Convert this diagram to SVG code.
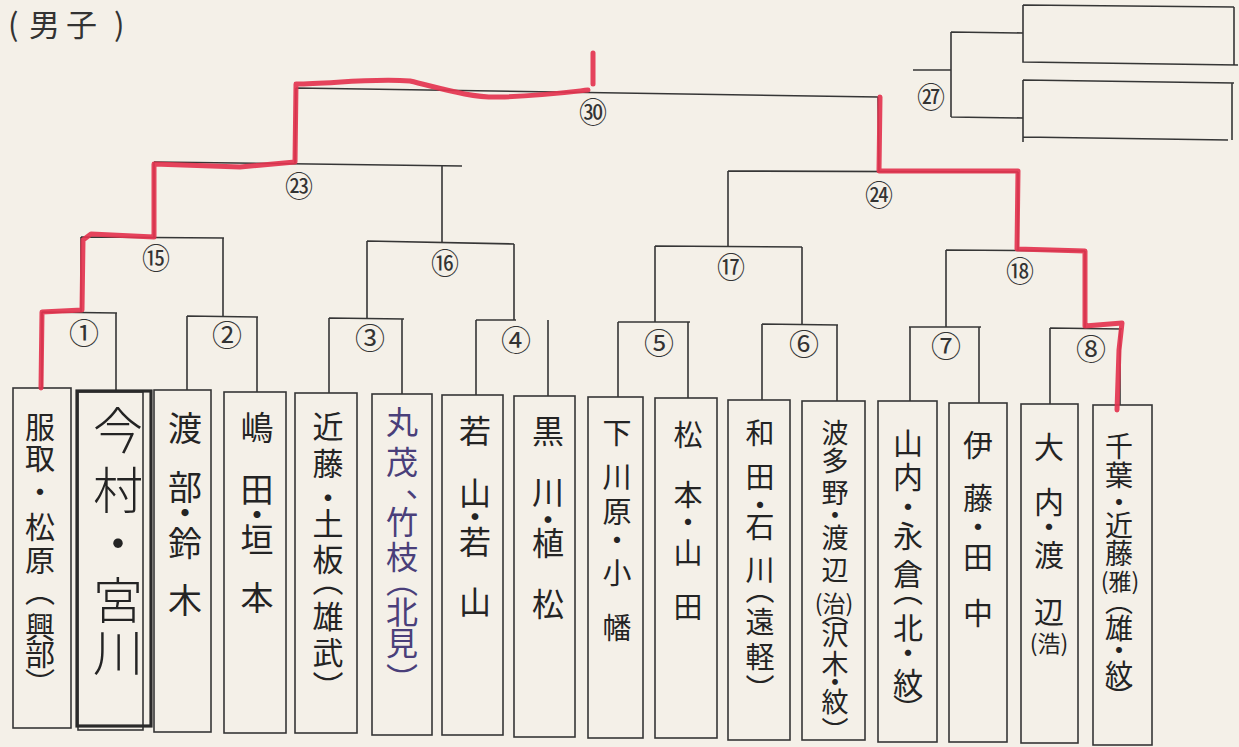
<svg xmlns="http://www.w3.org/2000/svg" width="1239" height="747" viewBox="0 0 1239 747">
<style>
.ln{stroke:#363636;stroke-width:1.6;fill:none}
.bx{fill:none;stroke:#363636;stroke-width:1.6}
.v{font-family:"Noto Sans CJK JP","Noto Sans CJK SC",sans-serif;writing-mode:vertical-rl;fill:#242424}
.n{font-family:"Noto Sans CJK JP","Noto Sans CJK SC",sans-serif;font-size:30px;text-anchor:middle;dominant-baseline:central;fill:#333}
.n2{font-size:28px}
.h{font-family:"Noto Sans CJK JP","Noto Sans CJK SC",sans-serif;text-anchor:middle;dominant-baseline:central;fill:#242424}
.red{stroke:#e3344f;stroke-width:5;fill:none;stroke-linecap:round;stroke-linejoin:round;opacity:0.92}
</style>
<rect x="0" y="0" width="1239" height="747" fill="#f4f0e8"/>
<g id="title">
<text font-family="'Noto Sans CJK JP','Noto Sans CJK SC',sans-serif" font-size="31" y="22" dominant-baseline="central" x="8 29 66 114" fill="#333">(男子)</text>
</g>
<g id="connectors">
<path class="ln" d="M296 88 L878 97 M296 88 L295 163 M878 97 L879 172"/>
<path class="ln" d="M154 162 L462 166 M154 162 L154 237 M442 166 L442 242"/>
<path class="ln" d="M728 171 L1018 172 M728 171 L728 246 M1018 172 L1018 250"/>
<path class="ln" d="M81 237 L224 238 M81 237 L81 313 M223 238 L223 316"/>
<path class="ln" d="M367 241 L514 244 M367 241 L367 318 M514 244 L514 320"/>
<path class="ln" d="M655 246 L802 247 M655 246 L655 322 M802 247 L802 324"/>
<path class="ln" d="M946 250 L1085 251 M946 250 L946 327 M1085 251 L1085 328"/>
<path class="ln" d="M42 312 L117 313 M42 312 L42 388 M116 313 L116 392"/>
<path class="ln" d="M187 316 L258 317 M187 316 L187 390 M257 317 L257 392"/>
<path class="ln" d="M329 318 L404 319 M329 318 L329 393 M402 319 L402 394"/>
<path class="ln" d="M476 320 L516 320 M476 320 L476 395 M548 320 L548 396"/>
<path class="ln" d="M618 322 L690 322 M618 322 L618 397 M688 322 L688 398"/>
<path class="ln" d="M762 324 L838 325 M762 324 L762 400 M837 325 L837 401"/>
<path class="ln" d="M909 327 L981 327 M910 327 L910 401 M979 327 L979 403"/>
<path class="ln" d="M1050 328 L1122 329 M1050 328 L1050 404 M1120 329 L1120 405"/>
<text class="n n2" x="593" y="111">㉚</text>
<text class="n n2" x="299" y="185">㉓</text>
<text class="n n2" x="879" y="194">㉔</text>
<text class="n n2" x="156" y="257">⑮</text>
<text class="n n2" x="445" y="262">⑯</text>
<text class="n n2" x="731" y="266">⑰</text>
<text class="n n2" x="1020" y="270">⑱</text>
<text class="n" x="84" y="331">①</text>
<text class="n" x="227" y="333">②</text>
<text class="n" x="370" y="336">③</text>
<text class="n" x="516" y="338">④</text>
<text class="n" x="659" y="341">⑤</text>
<text class="n" x="804" y="342">⑥</text>
<text class="n" x="946" y="344">⑦</text>
<text class="n" x="1091" y="347">⑧</text>
</g>
<g id="match-27">
<path class="ln" d="M913 70 L951 70 M951 32 L951 117 M951 32 L1023 33 M951 117 L1023 118"/>
<path class="ln" d="M1023 5 L1234 7 M1023 5 L1023 62 L1238 65 M1234 7 L1234 65"/>
<path class="ln" d="M1023 80 L1234 83 M1023 80 L1023 142 M1023 137 L1228 140 M1232 83 L1232 140"/>
<text class="n n2" x="931" y="96">㉗</text>
</g>
<g id="p1"><rect class="bx" x="13" y="388" width="58" height="340"/>
<text class="v" font-size="30" x="40" y="412 443 477 512 545 576 612 639 668">服取・松原（興部）</text></g>
<g id="p2"><rect class="bx" x="78" y="392" width="65" height="338"/><rect x="77" y="391" width="74" height="335" fill="none" stroke="#2a2a2a" stroke-width="3.2"/>
<text class="v" font-size="50" font-weight="300" x="118" y="405 465 518 575 627">今村・宮川</text></g>
<g id="p3"><rect class="bx" x="154" y="390" width="57" height="342"/>
<text class="v" font-size="34" x="185" y="411 470 496 526 583">渡部・鈴木</text></g>
<g id="p4"><rect class="bx" x="224" y="392" width="62" height="341"/>
<text class="v" font-size="33" x="257" y="411 473 498 523 581">嶋田・垣本</text></g>
<g id="p5"><rect class="bx" x="295" y="393" width="62" height="340"/>
<text class="v" font-size="31" x="328" y="411 448 482 508 544 565 601 637 671">近藤・土板（雄武）</text></g>
<g id="p6"><rect class="bx" x="372" y="394" width="60" height="341"/>
<text class="v" font-size="32" style="fill:#4a3f7a" x="402" y="406 446 489 506 541 565 596 627 663">丸茂、竹枝（北見）</text></g>
<g id="p7"><rect class="bx" x="442" y="395" width="61" height="340"/>
<text class="v" font-size="32" x="475" y="415 477 501 526 586">若山・若山</text></g>
<g id="p8"><rect class="bx" x="514" y="396" width="61" height="341"/>
<text class="v" font-size="32" x="548" y="415 476 504 527 588">黒川・植松</text></g>
<g id="p9"><rect class="bx" x="588" y="397" width="55" height="341"/>
<text class="v" font-size="29" x="617" y="418 462 497 525 558 613">下川原・小幡</text></g>
<g id="p10"><rect class="bx" x="655" y="398" width="62" height="340"/>
<text class="v" font-size="29" x="688" y="420 480 507 538 592">松本・山田</text></g>
<g id="p11"><rect class="bx" x="728" y="400" width="62" height="340"/>
<text class="v" font-size="29" x="760" y="418 462 490 512 555 575 607 642 674">和田・石川（遠軽）</text></g>
<g id="p12"><rect class="bx" x="802" y="401" width="63" height="339"/>
<text class="v" font-size="27" x="835" y="419 447 479 501 524 556">波多野・渡辺</text>
<text class="h" font-size="23" x="834" y="602">(治)</text>
<text class="v" font-size="27" x="835" y="598 621 650 668 688 717">（沢木・紋）</text></g>
<g id="p13"><rect class="bx" x="878" y="401" width="59" height="341"/>
<text class="v" font-size="30" x="908" y="428 462 492 521 559 576 613 638 668 694">山内・永倉（北・紋）</text></g>
<g id="p14"><rect class="bx" x="949" y="403" width="58" height="339"/>
<text class="v" font-size="30" x="978" y="430 483 512 542 598">伊藤・田中</text></g>
<g id="p15"><rect class="bx" x="1021" y="404" width="57" height="339"/>
<text class="v" font-size="30" x="1049" y="432 487 512 540 597">大内・渡辺</text>
<text class="h" font-size="23" x="1049" y="642">(浩)</text></g>
<g id="p16"><rect class="bx" x="1093" y="405" width="59" height="340"/>
<text class="v" font-size="28" x="1119" y="432 461 488 511 539">千葉・近藤</text>
<text class="h" font-size="23" x="1120" y="580">(雅)</text>
<text class="v" font-size="28" x="1119" y="587 614 636 660 683">（雄・紋）</text></g>
<g id="highlight">
<path class="red" d="M593 53 L593 84" stroke-width="6"/>
<path class="red" d="M588 90 C570 92 540 96 500 97 C470 98 440 88 410 81 C370 78 330 84 296 84 L295 162 L240 167 L154 164 L154 237 L91 234 L83 240 L82 310 L42 312 L41 388"/>
<path class="red" d="M880 97 L879 171 L1018 171 L1017 249 L1085 251 L1085 326 L1122 323 L1119 350 L1117 410"/>
</g>
</svg>
